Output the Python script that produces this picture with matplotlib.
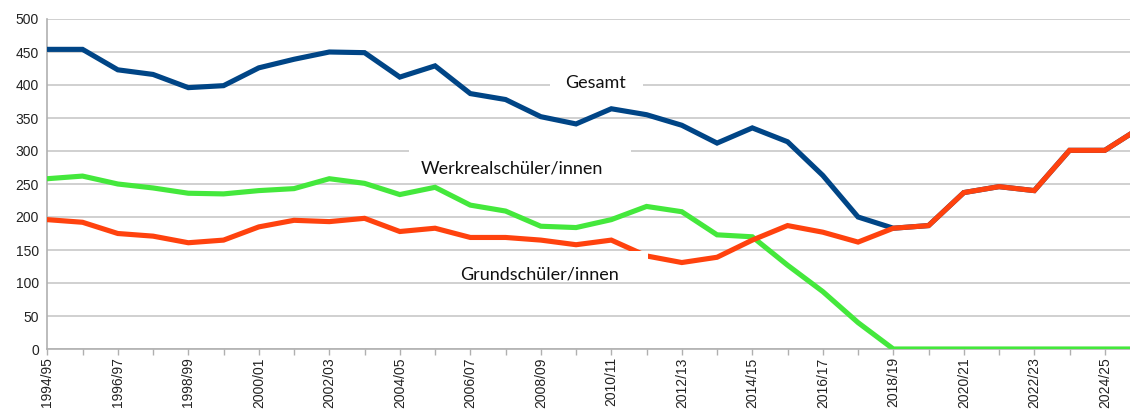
import matplotlib
matplotlib.use("Agg")
import matplotlib.pyplot as plt
from matplotlib.patches import Rectangle

# school years 1994/95 .. 2025/26
years = [f"{y}/{str(y + 1)[2:]}" for y in range(1994, 2026)]

gesamt = [454, 454, 423, 416, 396, 399, 426, 439, 450, 449,
          412, 429, 387, 378, 352, 341, 364, 355, 339, 312,
          335, 314, 263, 200, 183, 187, 237, 246, 240, 301,
          301, 335]
werkreal = [258, 262, 250, 244, 236, 235, 240, 243, 258, 251,
            234, 245, 218, 209, 186, 184, 196, 216, 208, 173,
            170, 127, 87, 40, 0, 0, 0, 0, 0, 0,
            0, 0]
grund = [196, 192, 175, 171, 161, 165, 185, 195, 193, 198,
         178, 183, 169, 169, 165, 158, 165, 141, 131, 139,
         165, 187, 177, 162, 183, 187, 237, 246, 240, 301,
         301, 335]

W, H = 1130, 411
fig = plt.figure(figsize=(W / 100, H / 100), dpi=100)
x0, x1, y0, y1 = 47.3, 1130, 19, 349
ax = fig.add_axes([x0 / W, (H - y1) / H, (x1 - x0) / W, (y1 - y0) / H])
step = 35.25          # px per school year
ppu = (y1 - y0) / 500  # px per pupil


def px2data(px, py):
    return (px - x0) / step, (y1 - py) / ppu


xs = list(range(len(years)))
lw = 3.7
ax.plot(xs, gesamt, color="#004586", lw=lw, solid_joinstyle="miter", zorder=3)
ax.plot(xs, werkreal, color="#44e83c", lw=lw, solid_joinstyle="miter", zorder=4)
ax.plot(xs, grund, color="#ff420e", lw=lw, solid_joinstyle="miter", zorder=5)

ax.set_yticks(range(0, 501, 50))
ax.set_xticks(xs)
ax.set_xticklabels([y if i % 2 == 0 else "" for i, y in enumerate(years)],
                   rotation=90, fontsize=10, color="#222222",
                   family="Liberation Sans")
for lab in ax.get_yticklabels():
    lab.set_family("Liberation Sans")
    lab.set_fontsize(10)
    lab.set_color("#222222")

# last year (2025/26) lies just past the right edge of the picture
ax.set_xlim(0, (x1 - x0) / step)
ax.set_ylim(0, 500)

ax.grid(axis="y", color="#c8c8c8", lw=1.2)
ax.set_axisbelow(True)
for s in ["top", "right"]:
    ax.spines[s].set_visible(False)
for s in ["left", "bottom"]:
    ax.spines[s].set_color("#b0b0b0")
    ax.spines[s].set_linewidth(1.2)
ax.tick_params(axis="x", length=4, color="#b0b0b0", width=1, pad=2)
ax.tick_params(axis="y", length=0, pad=6)

# series labels on white boxes (box corners and text centre in pixels)
labels = [
    ("Gesamt", (550, 66, 643, 100), (595.5, 83)),
    ("Werkrealschüler/innen", (409, 150, 631, 182), (512, 168)),
    ("Grundschüler/innen", (432, 251, 648, 280), (540, 274)),
]
for txt, (bx0, by0, bx1, by1), (tx, ty) in labels:
    ax0, ay1 = px2data(bx0, by0)
    ax1, ay0 = px2data(bx1, by1)
    ax.add_patch(Rectangle((ax0, ay0), ax1 - ax0, ay1 - ay0,
                           facecolor="white", edgecolor="none", zorder=6))
    dx, dy = px2data(tx, ty)
    ax.text(dx, dy, txt, fontsize=13, family="Lato", ha="center",
            va="center", color="#111111", zorder=7)

fig.savefig("out.png", dpi=100)
